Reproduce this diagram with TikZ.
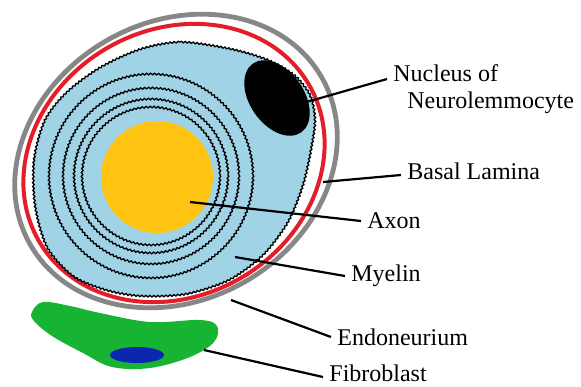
\documentclass[tikz,border=0pt]{standalone}
\usepackage{fontspec}
\setmainfont{Liberation Serif}
\usetikzlibrary{decorations.pathmorphing}
\definecolor{myelinblue}{RGB}{160,211,230}
\definecolor{axonyellow}{RGB}{255,196,18}
\definecolor{laminared}{RGB}{228,30,40}
\definecolor{endogray}{RGB}{135,135,135}
\definecolor{fibrogreen}{RGB}{22,180,50}
\definecolor{fibroblue}{RGB}{10,40,175}

\begin{document}
\begin{tikzpicture}[x=0.5pt,y=-0.5pt,
    lbl/.style={font=\fontsize{12}{14}\selectfont,inner sep=3pt,anchor=west},
    wavy/.style={decorate,decoration={snake,amplitude=0.4pt,segment length=2pt},line width=0.65pt},
    lead/.style={line width=1.1pt}]
    \useasboundingbox (0,0) rectangle (581,386);
    \draw[endogray,line width=2.4pt] (176,161) circle[x radius=168,y radius=139,rotate=30];
    \draw[laminared,line width=2pt] (174,163) circle[x radius=156,y radius=133,rotate=30];
    \draw[wavy,fill=myelinblue] plot[smooth cycle] coordinates {
    (140,49) (180,42) (230,49) (267,60) (293,75) (309,95) (314,120) (310,150)
    (302,185) (287,222) (262,255) (228,280) (185,294) (140,296) (105,290)
    (72,276) (46,247) (34,205) (33,160) (44,120) (66,92) (100,67)};
    \foreach \r in {69,77,88,102}{
    \draw[wavy] (151,175) circle[radius=\r]; }
    \fill[axonyellow] (157,177) circle[radius=56];
    \fill[black] (277,98) circle[x radius=42,y radius=27,rotate=-55];
    \fill[fibrogreen] plot[smooth cycle,tension=0.6] coordinates {
    (32,312) (43,302) (70,306) (100,313) (150,322) (200,320) (217,326)
    (214,342) (190,357) (150,368) (112,367) (83,353) (52,336) (34,321)};
    \fill[fibroblue] (137,355) circle[x radius=27,y radius=8];

    \node[lbl] (nucleus) at (387,73) {Nucleus of};
    \node[lbl] (neuro) at (401,103) {Neurolemmocyte};
    \node[lbl] (basal) at (401,171) {Basal Lamina};
    \node[lbl] (axon) at (361,221) {Axon};
    \node[lbl] (myelin) at (345,276) {Myelin};
    \node[lbl] (endo) at (331,337) {Endoneurium};
    \node[lbl] (fibro) at (323,373) {Fibroblast};

    \coordinate (cnuc) at (303,103);
    \coordinate (cbasal) at (323,182);
    \coordinate (caxon) at (190,202);
    \coordinate (cmyelin) at (235,257);
    \coordinate (cendo) at (231,300);
    \coordinate (cfibro) at (204,350);
    \draw[lead]
    (cnuc)--([yshift=-3pt]nucleus.west)
    (cbasal)--([yshift=-2pt]basal.west)
    (caxon)--(axon.west)
    (cmyelin)--(myelin.west)
    (cendo)--(endo.west)
    (cfibro)--([yshift=-2pt]fibro.west);
\end{tikzpicture}
\end{document}
